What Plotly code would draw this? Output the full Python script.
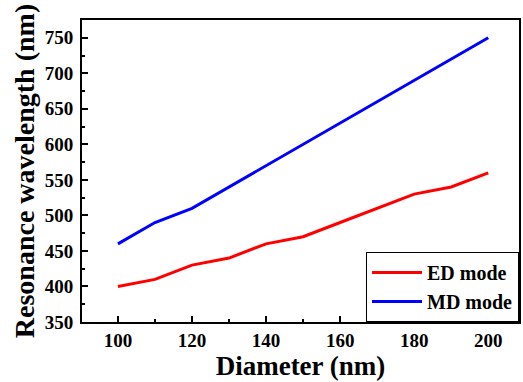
import plotly.graph_objects as go

diameter = [100, 110, 120, 130, 140, 150, 160, 170, 180, 190, 200]
ed_mode = [400, 410, 430, 440, 460, 470, 490, 510, 530, 540, 560]
md_mode = [460, 490, 510, 540, 570, 600, 630, 660, 690, 720, 750]

FONT = "Liberation Serif"

fig = go.Figure()
fig.add_trace(go.Scatter(x=diameter, y=ed_mode, mode="lines", name="<b>ED mode</b>",
                         line=dict(color="#ff0000", width=3)))
fig.add_trace(go.Scatter(x=diameter, y=md_mode, mode="lines", name="<b>MD mode</b>",
                         line=dict(color="#0000ff", width=3)))

fig.update_layout(
    width=523, height=382,
    margin=dict(l=82, r=2, t=20, b=60),
    paper_bgcolor="white", plot_bgcolor="white",
    font=dict(family=FONT, color="black", size=18),
    legend=dict(x=1, y=0, xanchor="right", yanchor="bottom",
                bgcolor="white", bordercolor="black", borderwidth=1,
                font=dict(family=FONT, size=20, color="black"),
                tracegroupgap=0, itemwidth=50),
    showlegend=True,
)
xtv = [100, 120, 140, 160, 180, 200]
fig.update_xaxes(
    range=[90.3, 208.3], tickmode="array", tickvals=xtv,
    ticktext=["<b>%d</b>" % v for v in xtv],
    ticks="inside", ticklen=6, tickwidth=1.5, tickcolor="black",
    minor=dict(tickvals=[110, 130, 150, 170, 190], ticks="inside", ticklen=3, tickwidth=1.5, tickcolor="black"),
    showline=True, linecolor="black", linewidth=2, mirror=True,
    showgrid=False, zeroline=False,
    tickfont=dict(family=FONT, size=19),
    title=dict(text="<b>Diameter (nm)</b>", font=dict(family=FONT, size=27), standoff=4),
)
ytv = [350, 400, 450, 500, 550, 600, 650, 700, 750]
fig.update_yaxes(
    range=[350, 775], tickmode="array", tickvals=ytv,
    ticktext=["<b>%d</b>" % v for v in ytv],
    ticks="inside", ticklen=6, tickwidth=1.5, tickcolor="black",
    minor=dict(tickvals=[375, 425, 475, 525, 575, 625, 675, 725], ticks="inside", ticklen=3, tickwidth=1.5, tickcolor="black"),
    showline=True, linecolor="black", linewidth=2, mirror=True,
    showgrid=False, zeroline=False, ticklabelstandoff=3,
    tickfont=dict(family=FONT, size=19),
    title=dict(text="<b>Resonance wavelength (nm)</b>", font=dict(family=FONT, size=28), standoff=2),
)

fig.write_html("out.html")
